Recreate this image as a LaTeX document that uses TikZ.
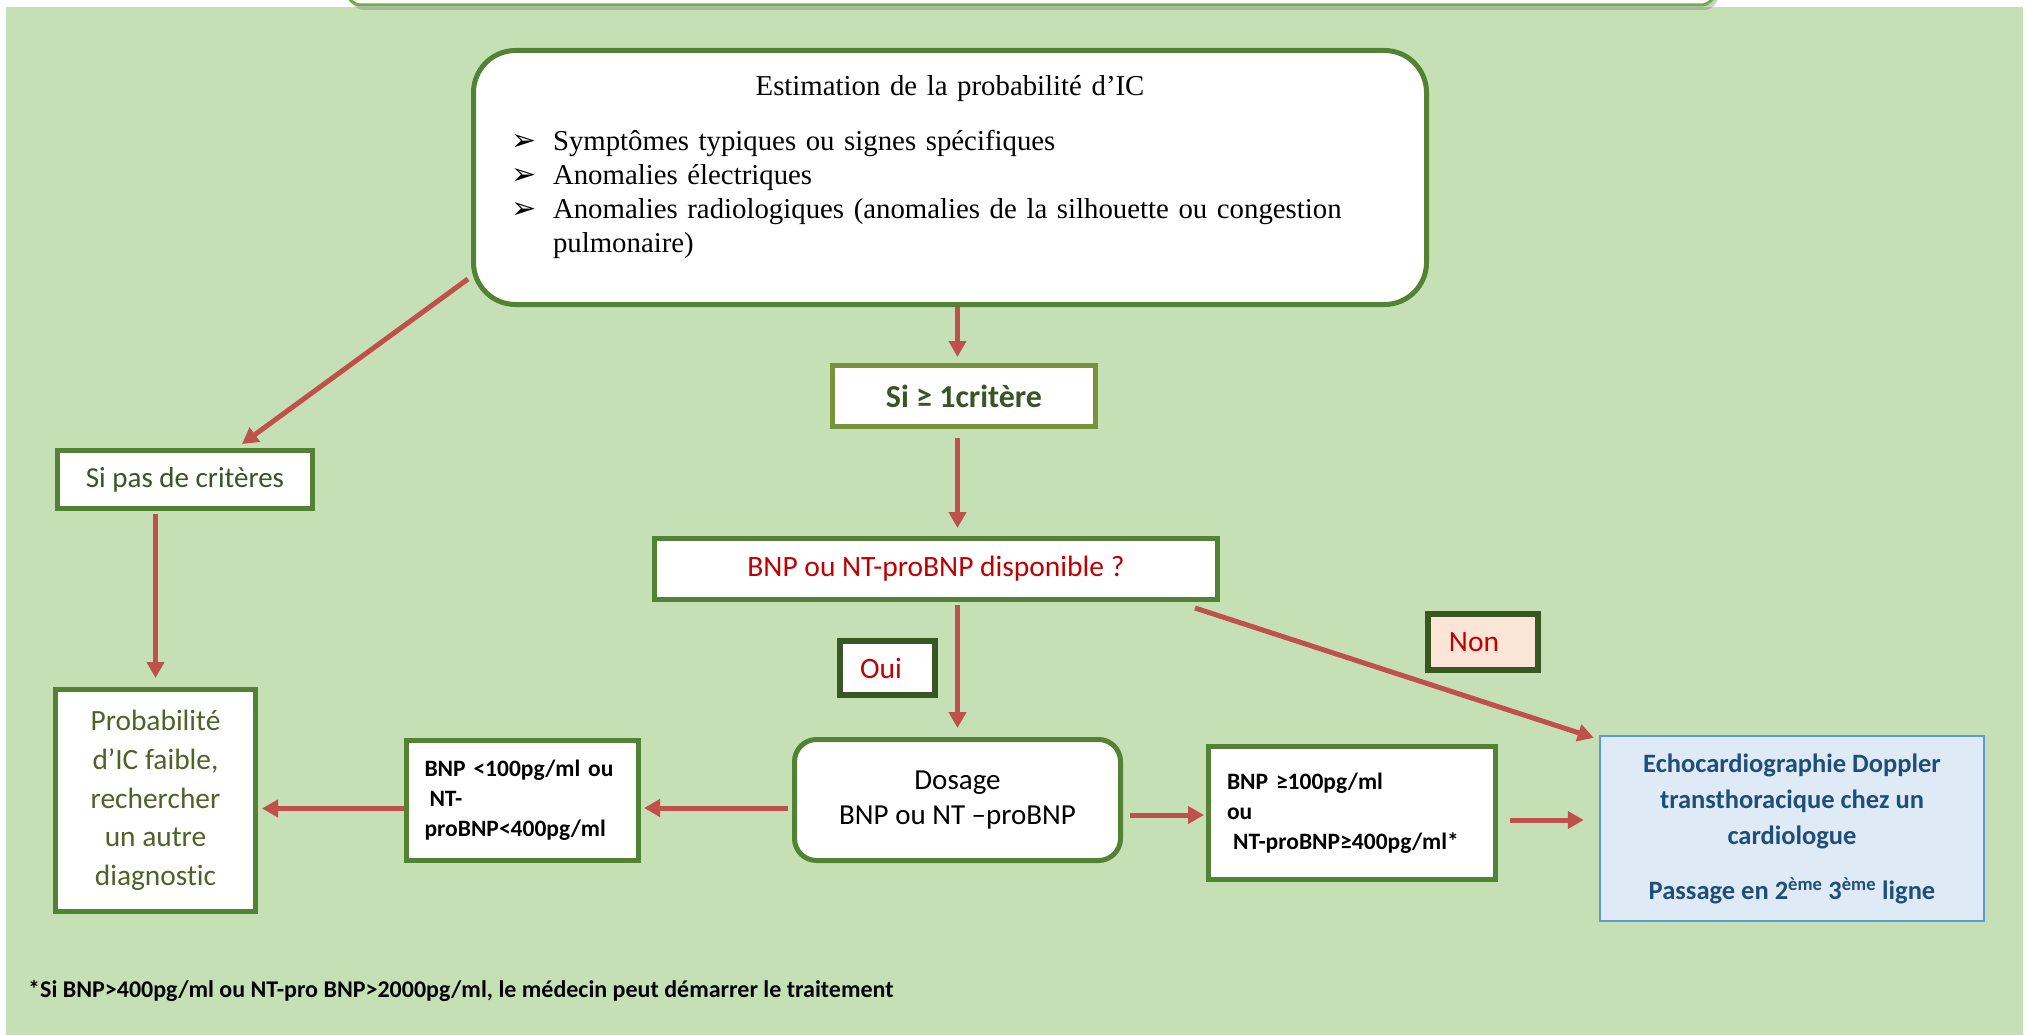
\documentclass[tikz,border=0pt]{standalone}
\usepackage{fontspec}
\setmainfont{Carlito}[Ligatures=NoCommon]
\newfontfamily\timesfont{Liberation Serif}
\newfontfamily\dejavu{DejaVu Sans}
\usetikzlibrary{arrows.meta,calc,shadows}

\definecolor{bggreen}{HTML}{C5E0B4}
\definecolor{boxgreen}{HTML}{548235}
\definecolor{olivegreen}{HTML}{77933C}
\definecolor{darkframe}{HTML}{385723}
\definecolor{textgreen}{HTML}{375623}
\definecolor{probgreen}{HTML}{4F6228}
\definecolor{topline}{HTML}{70AD47}
\definecolor{arrowred}{HTML}{C0504D}
\definecolor{textred}{HTML}{C00000}
\definecolor{nonfill}{HTML}{FBE5D6}
\definecolor{echofill}{HTML}{DEEBF7}
\definecolor{echoline}{HTML}{5B9BD5}
\definecolor{echotext}{HTML}{1F4E79}

\begin{document}
\begin{tikzpicture}[x=1pt,y=-1pt,
	box/.style={draw=boxgreen, fill=white, line width=5pt, inner sep=0pt,
		align=center, font=\fontsize{29.5}{35}\selectfont},
	link/.style={draw=arrowred, line width=5pt, -{Triangle[length=16pt,width=17pt]}},
	]
	\useasboundingbox (0,0) rectangle (2028,1035);
	\fill[bggreen] (6,7) rectangle (2023,1035);
	% box cut off at the top of the page
	\draw[fill=white, draw=topline, line width=3pt, rounded corners=14pt,
		drop shadow={shadow xshift=3pt, shadow yshift=-5pt, opacity=0.4}]
		(347,-40) rectangle (1715,5);

	\node[box, rounded corners=42pt, minimum width=953pt, minimum height=254pt,
		text width=900pt, align=left, font=\timesfont\fontsize{28.8}{34}\selectfont]
		(est) at (950,177.5) {
		{\centering Estimation de la probabilité d’IC\par}
		\list{\dejavu\fontsize{30}{30}\selectfont ➢}{\topsep=21pt\partopsep=0pt
		\itemsep=0pt\parsep=0pt\parskip=0pt\labelwidth=30pt\leftmargin=53pt
		\labelsep=16pt}
		\item Symptômes typiques ou signes spécifiques
		\item Anomalies électriques
		\item Anomalies radiologiques (anomalies de la silhouette ou congestion pulmonaire)
		\endlist
		\vspace{7pt}
	};

	\node[box, draw=olivegreen, minimum width=263pt, minimum height=61pt, text=textgreen,
		font=\bfseries\fontsize{32}{38}\selectfont] (crit) at (964,396) {Si ≥ 1critère};
	\node[box, minimum width=255pt, minimum height=58pt, text=textgreen,
		font=\fontsize{29}{34}\selectfont] (nocrit) at (185,479.5) {Si pas de critères};
	\node[box, minimum width=563pt, minimum height=61pt, text=textred]
		(dispo) at (936,569) {BNP ou NT-proBNP disponible ?};
	\node[box, draw=darkframe, line width=6pt, minimum width=95pt, minimum height=54pt,
		text=textred] (oui) at (887.5,668) {Oui\hspace*{13pt}};
	\node[box, draw=darkframe, line width=6pt, fill=nonfill, minimum width=110pt,
		minimum height=56pt, text=textred] (non) at (1483,642) {Non\hspace*{18pt}};

	\node[box, rounded corners=22pt, minimum width=326pt, minimum height=121pt,
		font=\fontsize{29}{35}\selectfont] (dos) at (957.5,800) {Dosage\\BNP ou NT –proBNP};
	\node[box, minimum width=232pt, minimum height=120pt, text width=196pt, align=left,
		font=\bfseries\fontsize{23.5}{30}\selectfont] (low) at (522.5,800.5)
		{BNP <100pg/ml ou\\\hspace*{5pt}NT-\\proBNP<400pg/ml};
	\node[box, minimum width=200pt, minimum height=222pt, text=probgreen,
		font=\fontsize{29.4}{38.8}\selectfont] (prob) at (155.5,800.5)
		{Probabilité\\d’IC faible,\\rechercher\\un autre\\diagnostic};
	\node[box, minimum width=287pt, minimum height=133pt, text width=250pt, align=left,
		font=\bfseries\fontsize{23.5}{30}\selectfont] (high) at (1352,813)
		{BNP ≥100pg/ml\\ou\\\hspace*{6pt}NT-proBNP≥400pg/ml*\par\vspace{20pt}};
	\node[box, draw=echoline, line width=2.5pt, fill=echofill, minimum width=384pt,
		minimum height=185pt, text=echotext, font=\bfseries\fontsize{26.5}{36}\selectfont]
		(echo) at (1792,828.5)
		{Echocardiographie Doppler\\transthoracique chez un\\cardiologue\\[19pt]Passage en
		2\textsuperscript{ème} 3\textsuperscript{ème} ligne};

	\node[anchor=west, inner sep=0pt, font=\bfseries\fontsize{24}{28}\selectfont] (note) at (28,991)
		{*Si BNP>400pg/ml ou NT-pro BNP>2000pg/ml, le médecin peut démarrer le traitement};

	% arrows
	\draw[link, shorten >=6pt] (est.south -| dos.north) -- (crit.north -| dos.north);
	\draw[link, shorten <=9pt, shorten >=8pt] (crit.south -| dos.north) -- (dispo.north -| dos.north);
	\draw[link, shorten <=3pt, shorten >=9pt] (dispo.south -| dos.north) -- (dos.north);
	\draw[link] ($(est.south west)+(-3,-28)$) -- ($(nocrit.north east)+(-73,-4)$);
	\draw[link, shorten <=3pt, shorten >=9pt] (nocrit.south -| prob.north) -- (prob.north);
	\draw[link] ($(dispo.south east)+(-25,6)$) -- ($(echo.north west)+(-5,3)$);
	\draw[link, shorten <=4pt, shorten >=3pt] ([yshift=-8pt]dos.west) -- ([yshift=-8pt]dos.west -| low.east);
	\draw[link, shorten >=4pt] ([yshift=-8pt]low.west) -- ([yshift=-8pt]low.west -| prob.east);
	\draw[link, shorten <=7pt, shorten >=2pt] ([yshift=-15pt]dos.east) -- ([yshift=-15pt]dos.east -| high.west);
	\draw[link, shorten <=12pt, shorten >=15pt] ([yshift=-7pt]high.east) -- ([yshift=-7pt]high.east -| echo.west);
\end{tikzpicture}
\end{document}
